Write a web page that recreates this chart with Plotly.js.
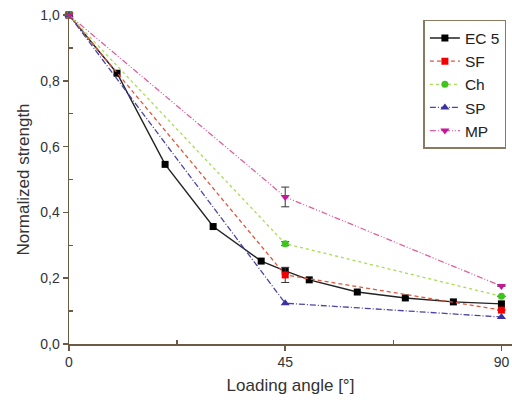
<!DOCTYPE html>
<html>
<head>
<meta charset="utf-8">
<script src="https://cdn.plot.ly/plotly-3.0.1.min.js"></script>
<style>html,body{margin:0;padding:0;background:#fff;}#chart{width:512px;height:400px;}</style>
</head>
<body>
<div id="chart"></div>
<script>
// Data
const ec5X = [0, 10, 20, 30, 40, 45, 50, 60, 70, 80, 90];
const ec5Y = [1.0, 0.823, 0.546, 0.357, 0.252, 0.222, 0.195, 0.158, 0.14, 0.128, 0.122];
const sfX = [0, 45, 90];
const sfY = [1.0, 0.21, 0.103];
const sfErr = [0, 0.023, 0];
const chX = [0, 45, 90];
const chY = [1.0, 0.305, 0.145];
const chErr = [0, 0.006, 0];
const spX = [0, 45, 90];
const spY = [1.0, 0.124, 0.082];
const mpX = [0, 45, 90];
const mpY = [1.0, 0.447, 0.176];
const mpErr = [0, 0.03, 0];
const xTicks = [0, 45, 90];
const xTickText = ['0', '45', '90'];
const yTicks = [0, 0.2, 0.4, 0.6, 0.8, 1.0];
const yTickText = ['0,0', '0,2', '0,4', '0,6', '0,8', '1,0'];

const errStyle = {type: 'data', color: '#333', thickness: 1, width: 4};

const traces = [
  {x: ec5X, y: ec5Y, name: 'EC 5', mode: 'lines+markers',
   line: {color: '#222', width: 1.4},
   marker: {symbol: 'square', size: 7, color: '#000'}},
  {x: sfX, y: sfY, name: 'SF', mode: 'lines+markers',
   line: {color: '#e0553a', width: 1.3, dash: '4px,3px'},
   marker: {symbol: 'square', size: 7, color: '#f00000'},
   error_y: Object.assign({array: sfErr}, errStyle)},
  {x: chX, y: chY, name: 'Ch', mode: 'lines+markers',
   line: {color: '#a8dc55', width: 1.3, dash: 'dot'},
   marker: {symbol: 'circle', size: 7, color: '#3fc41e'},
   error_y: Object.assign({array: chErr}, errStyle)},
  {x: spX, y: spY, name: 'SP', mode: 'lines+markers',
   line: {color: '#4a44a8', width: 1.3, dash: '6px,2px,1px,2px'},
   marker: {symbol: 'triangle-up', size: 8, color: '#3a32a0'}},
  {x: mpX, y: mpY, name: 'MP', mode: 'lines+markers',
   line: {color: '#e0609e', width: 1.3, dash: '6px,2px,1px,2px,1px,2px'},
   marker: {symbol: 'triangle-down', size: 8, color: '#c8169a'},
   error_y: Object.assign({array: mpErr}, errStyle)}
];
traces.forEach(t => t.cliponaxis = false);

const axisColor = '#6b5a45';
const layout = {
  width: 512, height: 400,
  margin: {l: 69, r: 0, t: 15, b: 56, pad: 0},
  paper_bgcolor: '#fff', plot_bgcolor: '#fff',
  font: {family: 'Liberation Sans, Arial, sans-serif', color: '#333', size: 14},
  showlegend: true,
  legend: {x: 0.80, y: 0.985, xanchor: 'left', yanchor: 'top',
           bgcolor: '#fff', bordercolor: '#8a7a60', borderwidth: 1.5,
           font: {size: 15.5, color: '#222'}, tracegroupgap: 0},
  xaxis: {range: [0, 92.2], tickvals: xTicks, ticktext: xTickText,
          showgrid: false, zeroline: false, showline: true, linecolor: axisColor, linewidth: 1.5,
          ticks: 'outside', ticklen: 5, tickcolor: axisColor, tickwidth: 1.5,
          minor: {tickvals: [22.5, 67.5], ticks: 'inside', ticklen: 4, tickcolor: axisColor, tickwidth: 1.5},
          title: {text: 'Loading angle [°]', font: {size: 17, color: '#333'}, standoff: 10}},
  yaxis: {range: [0, 1.0], tickvals: yTicks, ticktext: yTickText,
          showgrid: false, zeroline: false, showline: true, linecolor: axisColor, linewidth: 1.5,
          ticks: 'outside', ticklen: 5, tickcolor: axisColor, tickwidth: 1.5,
          minor: {tickvals: [0.1, 0.3, 0.5, 0.7, 0.9], ticks: 'inside', ticklen: 4, tickcolor: axisColor, tickwidth: 1.5},
          title: {text: 'Normalized strength', font: {size: 17, color: '#333'}, standoff: 6}}
};

Plotly.newPlot('chart', traces, layout, {displayModeBar: false, staticPlot: true});
</script>
</body>
</html>
